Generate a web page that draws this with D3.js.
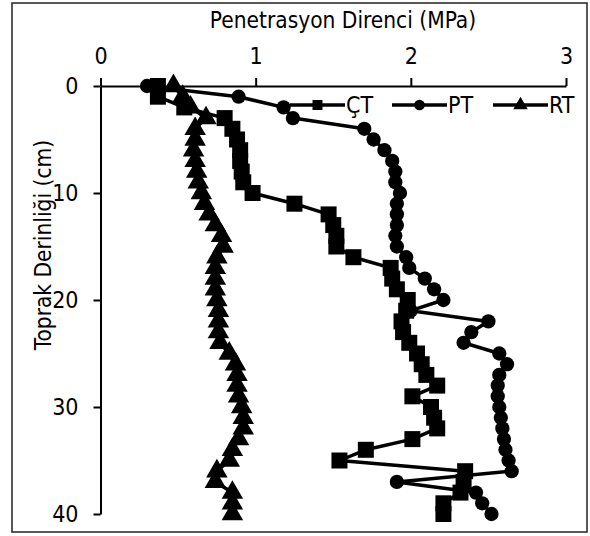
<!DOCTYPE html>
<html><head><meta charset="utf-8">
<script src="https://cdn.jsdelivr.net/npm/d3@7"></script>
<style>body{margin:0;background:#fff}svg{display:block}text{font-family:"DejaVu Sans Condensed","DejaVu Sans",sans-serif;fill:#000}</style>
</head><body><svg id="c" width="590" height="536"></svg>
<script>
const depths = d3.range(0, 41);
const xTicks = [0, 1, 2, 3];
const yTicks = [0, 10, 20, 30, 40];
const seriesNames = ["ÇT", "PT", "RT"];
const ctValues = [0.37,0.37,0.54,0.80,0.85,0.88,0.90,0.90,0.91,0.92,0.98,1.25,1.47,1.50,1.52,1.52,1.63,1.87,1.88,1.91,1.98,1.97,1.94,1.95,1.99,2.04,2.07,2.10,2.17,2.01,2.13,2.15,2.17,2.01,1.71,1.54,2.35,2.34,2.32,2.21,2.21];
const ptValues = [0.30,0.89,1.18,1.24,1.70,1.76,1.83,1.88,1.90,1.90,1.93,1.91,1.91,1.91,1.90,1.91,1.97,1.99,2.09,2.15,2.21,2.00,2.50,2.39,2.34,2.57,2.62,2.57,2.56,2.56,2.57,2.58,2.59,2.60,2.61,2.63,2.65,1.91,2.42,2.46,2.52];
const rtValues = [0.47,0.53,0.58,0.68,0.61,0.61,0.60,0.61,0.62,0.63,0.65,0.67,0.70,0.74,0.78,0.79,0.75,0.74,0.74,0.74,0.75,0.76,0.76,0.76,0.77,0.83,0.87,0.88,0.88,0.89,0.91,0.92,0.92,0.89,0.85,0.83,0.75,0.74,0.85,0.85,0.85];
const xTitle = "Penetrasyon Direnci  (MPa)";
const yTitle = "Toprak Derinliği (cm)";

const svg = d3.select("#c");
svg.append("rect").attr("x",12).attr("y",3).attr("width",575).attr("height",529)
  .attr("fill","#fff").attr("stroke","#222").attr("stroke-width",1.5);

const x = d3.scaleLinear().domain([0,3]).range([100.5,566]);
const y = d3.scaleLinear().domain([0,40]).range([86,514]);

const xa = svg.append("g").attr("transform","translate(0,86)")
  .call(d3.axisTop(x).tickValues(xTicks).tickFormat(d3.format("d")).tickSize(8).tickSizeOuter(0).tickPadding(14));
const ya = svg.append("g").attr("transform","translate(100.5,0)")
  .call(d3.axisLeft(y).tickValues(yTicks).tickFormat(d3.format("d")).tickSize(7).tickSizeOuter(0).tickPadding(15));
[xa,ya].forEach(a=>{a.selectAll("path,line").attr("stroke","#000").attr("stroke-width",2);
  a.selectAll("text").attr("font-size",23).style("font-family","'DejaVu Sans Condensed','DejaVu Sans',sans-serif");});

svg.append("text").attr("x",343).attr("y",28).attr("text-anchor","middle").attr("font-size",22.5).text(xTitle);
svg.append("text").attr("transform","translate(51,245) rotate(-90)").attr("text-anchor","middle").attr("font-size",22.5).text(yTitle);

const series = [
  {name:seriesNames[0], vals:ctValues, shape:d3.symbolSquare, size:256, lsize:100},
  {name:seriesNames[1], vals:ptValues, shape:d3.symbolCircle, size:160, lsize:90},
  {name:seriesNames[2], vals:rtValues, shape:d3.symbolTriangle, size:200, lsize:90}
];
const line = d3.line().x(d=>x(d.v)).y(d=>y(d.d));
series.forEach(s=>{
  const pts = depths.map((d,i)=>({d, v:s.vals[i]}));
  const g = svg.append("g");
  g.append("path").datum(pts).attr("d",line).attr("fill","none").attr("stroke","#000").attr("stroke-width",3.5).attr("stroke-linejoin","round");
  g.selectAll("path.m").data(pts).join("path").attr("class","m")
    .attr("transform",p=>`translate(${x(p.v)},${y(p.d)})`)
    .attr("d",d3.symbol().type(s.shape).size(s.size)).attr("fill","#000");
});

// legend
const lx = [290, 392, 493];
series.forEach((s,i)=>{
  const g = svg.append("g").attr("transform",`translate(${lx[i]},105)`);
  g.append("line").attr("x1",0).attr("x2",55).attr("stroke","#000").attr("stroke-width",3.5);
  g.append("path").attr("transform","translate(27.5,0)").attr("d",d3.symbol().type(s.shape).size(s.lsize)).attr("fill","#000");
  g.append("text").attr("x",56).attr("y",8).attr("font-size",23).text(s.name);
});
</script></body></html>
